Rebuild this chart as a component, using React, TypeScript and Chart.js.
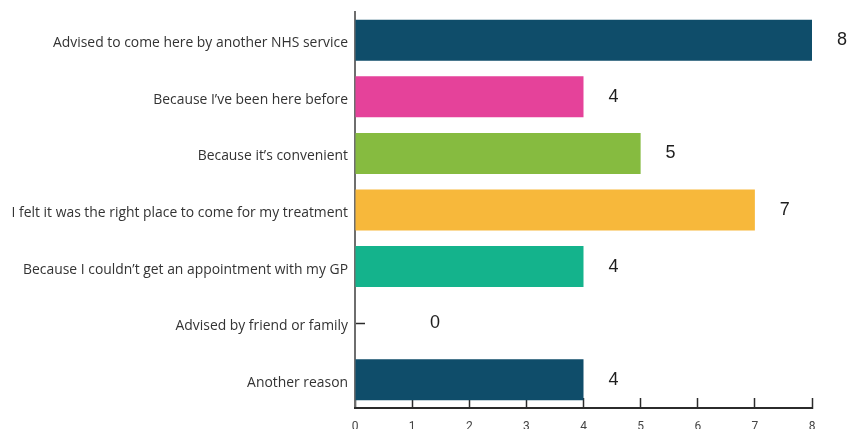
import React, { useEffect, useRef } from "react";
import { Chart, registerables } from "chart.js";

Chart.register(...registerables);

const categories = [
  "Advised to come here by another NHS service",
  "Because I\u2019ve been here before",
  "Because it\u2019s convenient",
  "I felt it was the right place to come for my treatment",
  "Because I couldn\u2019t get an appointment with my GP",
  "Advised by friend or family",
  "Another reason",
];
const values = [8, 4, 5, 7, 4, 0, 4];
const barColors = ["#0f4d6a", "#e5429a", "#86bb40", "#f7b83b", "#14b38c", "#14b38c", "#0f4d6a"];
const xTicks = [0, 1, 2, 3, 4, 5, 6, 7, 8];

const valueLabelPlugin = {
  id: "valueLabels",
  afterDatasetsDraw(chart: any) {
    const ctx = chart.ctx;
    const meta = chart.getDatasetMeta(0);
    const xScale = chart.scales.x;
    ctx.save();
    ctx.font = '18px "Liberation Sans", Arial, sans-serif';
    ctx.fillStyle = "#1e1e1e";
    ctx.textAlign = "center";
    ctx.textBaseline = "middle";
    meta.data.forEach((bar: any, i: number) => {
      const x = Math.max(bar.x + 30, xScale.getPixelForValue(1.4));
      ctx.fillText(String(values[i]), x, bar.y);
    });
    ctx.restore();
  },
};

export default function App() {
  const ref = useRef<HTMLCanvasElement | null>(null);
  useEffect(() => {
    if (!ref.current) return;
    const chart = new Chart(ref.current, {
      type: "bar",
      data: {
        labels: categories,
        datasets: [
          {
            data: values,
            backgroundColor: barColors,
            barPercentage: 0.725,
            categoryPercentage: 1,
            borderWidth: 0,
          },
        ],
      },
      options: {
        indexAxis: "y",
        animation: false,
        responsive: true,
        maintainAspectRatio: false,
        layout: { padding: { top: 12, right: 45, bottom: 0, left: 0 } },
        plugins: { legend: { display: false }, tooltip: { enabled: false } },
        scales: {
          y: {
            type: "category",
            offset: true,
            afterFit(s: any) {
              s.width = 355;
              s.paddingTop = 0;
              s.paddingBottom = 0;
            },
            border: { display: true, color: "#6e6e6e", width: 2 },
            grid: {
              offset: false,
              drawOnChartArea: false,
              drawTicks: true,
              tickLength: -10,
              tickColor: "#2b2b2b",
              tickWidth: 1.5,
            },
            ticks: {
              padding: 17,
              labelOffset: 3,
              color: "#333333",
              font: { family: "'Open Sans', sans-serif", size: 13.9 },
            },
          },
          x: {
            type: "linear",
            min: 0,
            max: 8,
            afterBuildTicks(s: any) {
              s.ticks = xTicks.map((v) => ({ value: v }));
            },
            afterFit(s: any) {
              s.height = 21;
              s.paddingLeft = 0;
              s.paddingRight = 0;
            },
            border: { display: true, color: "#2b2b2b", width: 2 },
            grid: {
              drawOnChartArea: false,
              drawTicks: true,
              tickLength: -10,
              tickColor: "#2b2b2b",
              tickWidth: 1.5,
            },
            ticks: {
              padding: 22,
              color: "#444444",
              font: { family: "Roboto, sans-serif", size: 12 },
            },
          },
        },
      },
      plugins: [valueLabelPlugin],
    });
    return () => chart.destroy();
  }, []);
  return (
    <div style={{ position: "absolute", left: 0, top: 0, width: 857, height: 429, background: "#fff" }}>
      <canvas ref={ref} />
    </div>
  );
}
